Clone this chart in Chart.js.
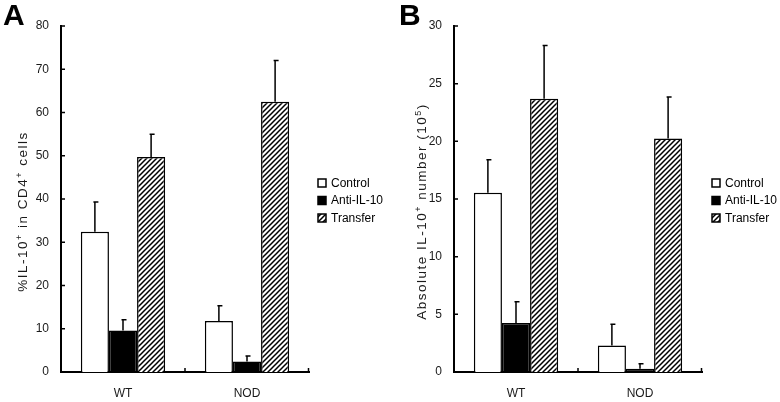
<!DOCTYPE html>
<html><head><meta charset="utf-8">
<script src="https://cdn.jsdelivr.net/npm/chart.js@4.4.1/dist/chart.umd.min.js"></script>
<style>
html,body{margin:0;padding:0;background:#fff;}
#wrap{position:relative;width:780px;height:402px;overflow:hidden;background:#fff;}
canvas{position:absolute;top:0;}
#cA{left:0;} #cB{left:390px;}
</style></head><body>
<div id="wrap"><canvas id="cA" width="390" height="402"></canvas><canvas id="cB" width="390" height="402"></canvas></div>
<script>
// ---- data ----
const categories = ['WT', 'NOD'];
const seriesNames = ['Control', 'Anti-IL-10', 'Transfer'];

// Panel A: %IL-10+ in CD4+ cells (mean, upper error)
const pctControl = [32.4, 11.8];
const pctAnti = [9.6, 2.4];
const pctTransfer = [49.7, 62.5];
const pctControlErr = [6.9, 3.5];
const pctAntiErr = [2.5, 1.3];
const pctTransferErr = [5.3, 9.5];
const pctTickMax = 80, pctTickStep = 10;

// Panel B: Absolute IL-10+ number (10^5)
const absControl = [15.55, 2.3];
const absAnti = [4.25, 0.28];
const absTransfer = [23.7, 20.25];
const absControlErr = [2.85, 1.85];
const absAntiErr = [1.85, 0.43];
const absTransferErr = [4.6, 3.6];
const absTickMax = 30, absTickStep = 5;

const panelLetters = ['A', 'B'];
const titleA = [['%IL-10', false], ['+', true], [' in CD4', false], ['+', true], [' cells', false]];
const titleB = [['Absolute IL-10', false], ['+', true], [' number (10', false], ['5', true], [')', false]];

// ---- styling ----
const FONT = "'Liberation Sans', Arial, Helvetica, sans-serif";
const TXT = '#1a1a1a';

function makeHatch() {
  const c = document.createElement('canvas'); c.width = 5; c.height = 5;
  const x = c.getContext('2d');
  x.fillStyle = '#fff'; x.fillRect(0, 0, 5, 5);
  x.strokeStyle = '#000'; x.lineWidth = 1.5;
  x.beginPath();
  x.moveTo(-1, 6); x.lineTo(6, -1);
  x.moveTo(-2, 2); x.lineTo(2, -2);
  x.moveTo(3, 7); x.lineTo(7, 3);
  x.stroke();
  return x.createPattern(c, 'repeat');
}
const hatch = makeHatch();
const fills = ['#ffffff', '#000000', hatch];

const errorBars = {
  id: 'errorBars',
  afterDatasetsDraw(chart) {
    const ctx = chart.ctx, y = chart.scales.y;
    ctx.save(); ctx.strokeStyle = '#000'; ctx.lineWidth = 1.5;
    chart.data.datasets.forEach((ds, di) => {
      const meta = chart.getDatasetMeta(di);
      meta.data.forEach((el, i) => {
        const top = y.getPixelForValue(ds.data[i] + ds.err[i]);
        ctx.beginPath();
        ctx.moveTo(el.x, el.y); ctx.lineTo(el.x, top);
        ctx.moveTo(el.x - 1.5, top); ctx.lineTo(el.x + 3.5, top);
        ctx.stroke();
      });
    });
    ctx.restore();
  }
};

const decor = {
  id: 'decor',
  afterDraw(chart, args, o) {
    const { ctx, chartArea: a, scales: { x, y } } = chart;
    ctx.save();
    // inward ticks
    ctx.strokeStyle = '#000'; ctx.lineWidth = 1.5;
    ctx.beginPath();
    y.ticks.forEach(t => { const py = y.getPixelForValue(t.value); ctx.moveTo(a.left, py); ctx.lineTo(a.left + 4, py); });
    for (let i = 1; i <= categories.length; i++) {
      const px = i < categories.length ? (x.getPixelForValue(i - 1) + x.getPixelForValue(i)) / 2 : a.right - 0.5;
      ctx.moveTo(px, a.bottom); ctx.lineTo(px, a.bottom - 4);
    }
    ctx.stroke();
    // panel letter
    ctx.fillStyle = '#000';
    ctx.font = 'bold 30px ' + FONT;
    ctx.textBaseline = 'alphabetic'; ctx.textAlign = 'left';
    ctx.fillText(o.letter, o.letterX, 25);
    // axis title with superscripts
    ctx.fillStyle = TXT;
    try { ctx.letterSpacing = '1.5px'; } catch (e) {}
    const mainF = '13.5px ' + FONT, supF = '9px ' + FONT;
    let w = 0;
    o.title.forEach(([t, sup]) => { ctx.font = sup ? supF : mainF; w += ctx.measureText(t).width; });
    ctx.translate(o.titleX, o.titleCY);
    ctx.rotate(-Math.PI / 2);
    let cx = -w / 2;
    o.title.forEach(([t, sup]) => {
      ctx.font = sup ? supF : mainF;
      ctx.fillText(t, cx, sup ? -5 : 0);
      cx += ctx.measureText(t).width;
    });
    ctx.setTransform(1, 0, 0, 1, 0, 0);
    try { ctx.letterSpacing = '0px'; } catch (e) {}
    // legend
    const rows = [183, 200.5, 218];
    ctx.font = '12px ' + FONT; ctx.textBaseline = 'middle';
    chart.data.datasets.forEach((ds, i) => {
      const by = rows[i];
      ctx.fillStyle = ds.backgroundColor;
      ctx.fillRect(o.legendX, by - 4, 8, 8);
      ctx.strokeStyle = '#000'; ctx.lineWidth = 1.5;
      ctx.strokeRect(o.legendX, by - 4, 8, 8);
      ctx.fillStyle = '#000';
      ctx.fillText(ds.label, o.legendX + 13, by + 0.5);
    });
    ctx.restore();
  }
};

function makeChart(id, series, errs, max, step, yWidth, rightPad, dec) {
  return new Chart(document.getElementById(id), {
    type: 'bar',
    data: {
      labels: categories,
      datasets: series.map((s, i) => ({
        label: seriesNames[i], data: s, err: errs[i],
        backgroundColor: fills[i], borderColor: '#000', borderWidth: 1.5,
        borderSkipped: 'start',
        categoryPercentage: 0.68, barPercentage: 1.0
      }))
    },
    options: {
      responsive: false, devicePixelRatio: 1, animation: false,
      layout: { padding: { top: 26, right: rightPad, left: 0, bottom: 0 } },
      plugins: { legend: { display: false }, tooltip: { enabled: false }, decor: dec },
      scales: {
        x: {
          grid: { display: false, drawTicks: false }, border: { display: true, color: '#000', width: 2 },
          ticks: { color: TXT, font: { family: FONT, size: 12 }, padding: 14 },
          afterFit: s => { s.height = 30; }
        },
        y: {
          min: 0, max: max,
          grid: { display: false, drawTicks: false }, border: { display: true, color: '#000', width: 2 },
          ticks: { stepSize: step, color: TXT, font: { family: FONT, size: 12 }, padding: 12 },
          afterFit: s => { s.width = yWidth; }
        }
      }
    },
    plugins: [errorBars, decor]
  });
}

makeChart('cA', [pctControl, pctAnti, pctTransfer], [pctControlErr, pctAntiErr, pctTransferErr],
  pctTickMax, pctTickStep, 61, 81,
  { letter: panelLetters[0], letterX: 3, title: titleA, titleX: 27, titleCY: 211.5, legendX: 318 });
makeChart('cB', [absControl, absAnti, absTransfer], [absControlErr, absAntiErr, absTransferErr],
  absTickMax, absTickStep, 64, 78,
  { letter: panelLetters[1], letterX: 9, title: titleB, titleX: 36, titleCY: 211.5, legendX: 322 });
</script>
</body></html>
